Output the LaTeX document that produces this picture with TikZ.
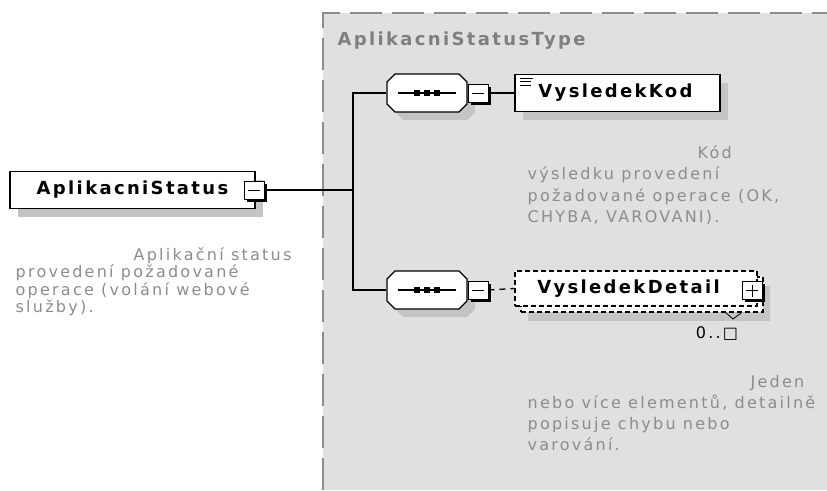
\documentclass[tikz,border=0pt]{standalone}
\usepackage{fontspec}
\setmainfont{DejaVu Sans}
\newfontfamily\descfont[LetterSpace=14]{DejaVu Sans}
\newfontfamily\namefont[LetterSpace=13]{DejaVu Sans}
\usepackage{xcolor}
\usepackage{tikz}
\usetikzlibrary{shadows}

\definecolor{typebg}{HTML}{E0E0E0}
\definecolor{typeline}{HTML}{8C8C8C}
\definecolor{descgray}{HTML}{8C8C8C}
\definecolor{titlegray}{HTML}{7F7F7F}
\definecolor{shadowgray}{HTML}{C4C4C4}

% octagon of a sequence, drawn round the current point
\newcommand{\octagon}{++(-32,-19) -- ++(64,0) -- ++(8,8) -- ++(0,22) -- ++(-8,8) -- ++(-64,0) -- ++(-8,-8) -- ++(0,-22) -- cycle}

\tikzset{
  elshadow/.style={drop shadow={shadow xshift=8pt, shadow yshift=-8pt, fill=shadowgray, opacity=1}},
  elbox/.style={draw=black, fill=white, inner sep=0pt, minimum height=37pt,
    font=\namefont\bfseries\fontsize{18}{22}\selectfont},
  detbox/.style={elbox, dash pattern=on 5pt off 3pt, minimum width=242pt, minimum height=35pt},
  seqslot/.style={inner sep=0pt, minimum width=80pt, minimum height=38pt},
  togglebox/.style={draw=black, line width=1pt, fill=white, minimum width=20pt, minimum height=18pt,
    inner sep=0pt, drop shadow={shadow xshift=2.5pt, shadow yshift=-2.5pt, fill=black, opacity=1}},
  desc/.style={anchor=north west, align=left, inner sep=0pt, text=descgray,
    font=\descfont\fontsize{16}{21.5}\selectfont}
}

\begin{document}
\begin{tikzpicture}[x=1pt,y=-1pt,line width=1.3pt]
	\useasboundingbox (0,0) rectangle (827,490);
	% type area
	\fill [typebg] (323,13) rectangle (827,490);
	\draw [typeline, line width=2pt, dash pattern=on 32pt off 10pt] (323,490) -- (323,13) -- (827,13);
	\node [anchor=base west, inner sep=0pt, text=titlegray, font=\namefont\bfseries\fontsize{18}{22}\selectfont] (typetitle) at (337,45) {AplikacniStatusType};
	% root element
	\node [elbox, elshadow, minimum width=245pt] (stat) at (132.5,190) {AplikacniStatus};
	\node [togglebox] (statm) at (254,190) {};
	\draw [line width=1pt] (statm.center) ++(-6,0) -- ++(12,0);
	\node [desc, font=\descfont\fontsize{16}{17.5}\selectfont] (statdesc) at (15,247) {\hspace*{118pt}Aplikační status\\provedení požadované\\operace (volání webové\\služby).};
	% sequence
	\coordinate (fork) at (353,190);
	\node [seqslot] (seq1) at (427,93) {};
	\node [seqslot] (seq2) at (427,290) {};
	\fill [shadowgray] (seq1.center) ++(8,8) \octagon;
	\fill [shadowgray] (seq2.center) ++(8,8) \octagon;
	\draw [black, fill=white] (seq1.center) \octagon;
	\draw [black, fill=white] (seq2.center) \octagon;
	\draw [black] (statm.east) -- (fork);
	\draw [black] (seq1.west) -| (fork) |- (seq2.west);
	\draw [black] (seq1.center) ++(-29,0) -- ++(58,0);
	\fill [black] (seq1.center) ++(-13,-3) rectangle ++(6,6);
	\fill [black] (seq1.center) ++(-3,-3) rectangle ++(6,6);
	\fill [black] (seq1.center) ++(7,-3) rectangle ++(6,6);
	\draw [black] (seq2.center) ++(-29,0) -- ++(58,0);
	\fill [black] (seq2.center) ++(-13,-3) rectangle ++(6,6);
	\fill [black] (seq2.center) ++(-3,-3) rectangle ++(6,6);
	\fill [black] (seq2.center) ++(7,-3) rectangle ++(6,6);
	\node [togglebox] (m1) at (478,93) {};
	\draw [line width=1pt] (m1.center) ++(-6,0) -- ++(12,0);
	\node [togglebox] (m2) at (478,290) {};
	\draw [line width=1pt] (m2.center) ++(-6,0) -- ++(12,0);
	% VysledekKod
	\node [elbox, elshadow, minimum width=205pt] (kod) at (617.5,93) {VysledekKod\hspace*{4pt}};
	\draw [line width=0.8pt] (520,78) -- (533,78);
	\draw [line width=0.8pt] (520,81.5) -- (531,81.5);
	\draw [line width=0.8pt] (520,85) -- (531,85);
	\draw [black] (m1.east) -- (kod.west);
	\node [desc] (koddesc) at (527,145) {\hspace*{170pt}Kód\\výsledku provedení\\požadované operace (OK,\\CHYBA, VAROVANI).};
	% VysledekDetail
	\node [detbox, drop shadow={shadow xshift=7pt, shadow yshift=-9pt, fill=shadowgray, opacity=1}] (detback) at (642,294.5) {};
	\node [detbox] (det) at (636,288.5) {VysledekDetail\hspace*{15pt}};
	\node [togglebox] (p2) at (752,290.5) {};
	\draw [line width=1pt] (p2.center) ++(-6,0) -- ++(12,0);
	\draw [line width=1pt] (p2.center) ++(0,-6) -- ++(0,12);
	\draw [black, dash pattern=on 6pt off 5pt] (m2.east) -- (det.west);
	\draw [line width=0.8pt] (725,312) -- (733,319) -- (741,313);
	\node [inner sep=0pt, font=\descfont\fontsize{16}{20}\selectfont] (detmult) at (717,334) {0..□};
	\node [desc, font=\descfont\fontsize{16}{21}\selectfont] (detdesc) at (527,375) {\hspace*{223pt}Jeden\\nebo více elementů, detailně\\popisuje chybu nebo\\varování.};
\end{tikzpicture}
\end{document}
